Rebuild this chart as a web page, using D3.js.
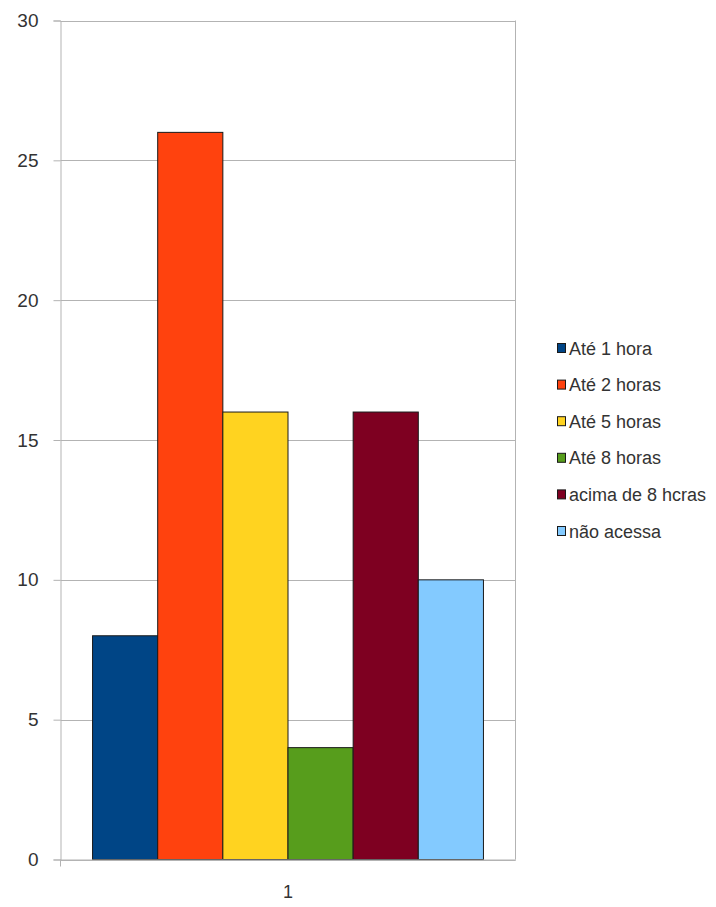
<!DOCTYPE html>
<html>
<head>
<meta charset="utf-8">
<script src="https://cdn.jsdelivr.net/npm/d3@7"></script>
<style>
  html, body { margin: 0; padding: 0; background: #fff; }
  svg { display: block; }
  text { font-family: "Liberation Sans", Arial, sans-serif; fill: #333; }
</style>
</head>
<body>
<svg id="chart" width="716" height="907"></svg>
<script>
// Series (one category "1")
const categories = ["1"];
const seriesNames = ["Até 1 hora", "Até 2 horas", "Até 5 horas", "Até 8 horas", "acima de 8 hcras", "não acessa"];
const seriesValues = [8, 26, 16, 4, 16, 10];
const seriesColors = ["#004586", "#ff420e", "#ffd320", "#579d1c", "#7e0021", "#83caff"];
const yTicks = [0, 5, 10, 15, 20, 25, 30];

const svg = d3.select("#chart");
const plot = { left: 60.5, right: 515.5, top: 20.5, bottom: 859.5 };

const y = d3.scaleLinear().domain([0, 30]).range([plot.bottom, plot.top]);
const x0 = d3.scaleBand().domain(categories).range([plot.left, plot.right]).paddingInner(0).paddingOuter(0.082);
const x1 = d3.scaleBand().domain(seriesNames).range([0, x0.bandwidth()]).padding(0);

// Horizontal gridlines
svg.append("g").selectAll("line").data(yTicks).join("line")
  .attr("x1", plot.left).attr("x2", plot.right)
  .attr("y1", d => Math.round(y(d)) + 0.5).attr("y2", d => Math.round(y(d)) + 0.5)
  .attr("stroke", "#b3b3b3").attr("stroke-width", 1);

// Right border of plot area
svg.append("line")
  .attr("x1", plot.right).attr("x2", plot.right)
  .attr("y1", plot.top).attr("y2", plot.bottom)
  .attr("stroke", "#b3b3b3");

// Bars
const group = svg.append("g").selectAll("g").data(categories).join("g")
  .attr("transform", c => `translate(${x0(c)},0)`);
group.selectAll("rect").data(seriesNames.map((n, i) => ({ name: n, value: seriesValues[i], color: seriesColors[i] })))
  .join("rect")
  .attr("x", d => x1(d.name))
  .attr("width", x1.bandwidth())
  .attr("y", d => y(d.value))
  .attr("height", d => y(0) - y(d.value))
  .attr("fill", d => d.color)
  .attr("stroke", "#1a1a1a")
  .attr("stroke-width", 1);

// Y axis
const yAxis = d3.axisLeft(y).tickValues(yTicks).tickSize(7).tickPadding(15);
const gy = svg.append("g").attr("transform", `translate(${plot.left},0)`).call(yAxis);
gy.select(".domain").attr("stroke", "#b3b3b3");
gy.selectAll(".tick line").attr("stroke", "#b3b3b3");
gy.selectAll(".tick text").attr("font-size", 19).attr("fill", "#333")
  .attr("font-family", "'Liberation Sans', Arial, sans-serif");

// X axis
const xAxis = d3.axisBottom(x0).tickSize(0).tickPadding(26);
const gx = svg.append("g").attr("transform", `translate(0,${plot.bottom})`).call(xAxis);
gx.select(".domain").attr("stroke", "#b3b3b3");
gx.selectAll(".tick text").attr("font-size", 18).attr("fill", "#333")
  .attr("font-family", "'Liberation Sans', Arial, sans-serif");
// Small tick below origin
svg.append("line").attr("x1", plot.left).attr("x2", plot.left)
  .attr("y1", plot.bottom).attr("y2", plot.bottom + 7).attr("stroke", "#b3b3b3");

// Legend
const legend = svg.append("g").attr("transform", "translate(557,343)");
const rowH = 36.6;
const items = legend.selectAll("g").data(seriesNames).join("g")
  .attr("transform", (d, i) => `translate(0,${i * rowH})`);
items.append("rect").attr("x", 0.5).attr("y", 0.5).attr("width", 8).attr("height", 9)
  .attr("fill", (d, i) => seriesColors[i]).attr("stroke", "#1a1a1a").attr("stroke-width", 1);
items.append("text").attr("x", 12).attr("y", 11.5).attr("font-size", 18).attr("fill", "#222")
  .text(d => d);
</script>
</body>
</html>
